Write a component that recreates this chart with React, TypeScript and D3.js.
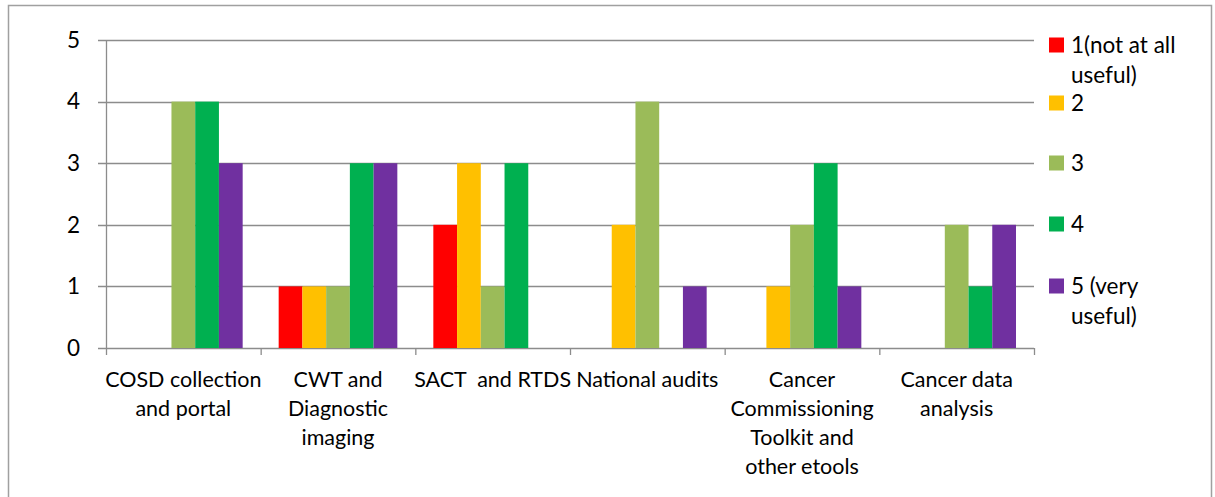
import React from "react";
import * as d3 from "d3";

const categories: string[][] = [
  ["COSD collection", "and portal"],
  ["CWT and", "Diagnostic", "imaging"],
  ["SACT  and RTDS"],
  ["National audits"],
  ["Cancer", "Commissioning", "Toolkit and", "other etools"],
  ["Cancer data", "analysis"],
];
const seriesNames: string[][] = [
  ["1(not at all", "useful)"],
  ["2"],
  ["3"],
  ["4"],
  ["5 (very", "useful)"],
];
const seriesColors = ["#FF0000", "#FFC000", "#9BBB59", "#00B050", "#7030A0"];
const s1 = [0, 1, 2, 0, 0, 0];
const s2 = [0, 1, 3, 2, 1, 0];
const s3 = [4, 1, 1, 4, 2, 2];
const s4 = [4, 3, 3, 0, 3, 1];
const s5 = [3, 3, 0, 1, 1, 2];
const seriesValues = [s1, s2, s3, s4, s5];
const yTicks = [0, 1, 2, 3, 4, 5];

const FONT = "Lato, 'Open Sans', sans-serif";

export default function App() {
  const W = 1215, H = 497;
  const left = 106, right = 1034, top = 40, bottom = 348;
  const x0 = d3.scaleBand<number>().domain(d3.range(categories.length)).range([left, right]).paddingInner(0).paddingOuter(0);
  const bw = x0.bandwidth();
  const inner = (bw - 2 * 18) / 5;
  const y = d3.scaleLinear().domain([0, 5]).range([bottom, top]);
  const grid = "#8c8c8c";
  const legendY = [45, 103, 163, 224, 286];
  return (
    <svg width={W} height={H} style={{ position: "absolute", left: 0, top: 0, background: "#fff" }} fontFamily={FONT}>
      <rect x={0} y={0} width={W} height={H} fill="#fff" />
      <path d={`M8.5,${H + 5} V5.5 H1211.5 V${H + 5}`} fill="none" stroke="#a0a0a0" strokeWidth={1.5} />
      {yTicks.map((t) => (
        <g key={t}>
          <line x1={98} x2={right} y1={Math.round(y(t)) + 0.5} y2={Math.round(y(t)) + 0.5} stroke={grid} strokeWidth={1.3} />
          <text x={80} y={y(t)} dy="0.35em" textAnchor="end" fontSize={22.5} fill="#000">{t}</text>
        </g>
      ))}
      <line x1={left + 0.5} x2={left + 0.5} y1={top} y2={bottom} stroke={grid} strokeWidth={1.3} />
      {d3.range(categories.length + 1).map((i) => {
        const xx = i < categories.length ? x0(i)! : right;
        return <line key={i} x1={xx + 0.5} x2={xx + 0.5} y1={bottom} y2={bottom + 7} stroke={grid} strokeWidth={1.3} />;
      })}
      {seriesValues.map((vals, si) =>
        vals.map((v, ci) =>
          v > 0 ? (
            <rect key={`${si}-${ci}`} x={x0(ci)! + 18 + si * inner} y={y(v)} width={inner} height={bottom - y(v)} fill={seriesColors[si]} />
          ) : null
        )
      )}
      {categories.map((lines, ci) => (
        <text key={ci} textAnchor="middle" fontSize={21.5} fill="#000">
          {lines.map((l, li) => (
            <tspan key={li} x={x0(ci)! + bw / 2} y={379 + li * 29.3} dy="0.35em" style={{ whiteSpace: "pre" }}>{l}</tspan>
          ))}
        </text>
      ))}
      {seriesNames.map((lines, si) => (
        <g key={si}>
          <rect x={1049} y={legendY[si] - 7.5} width={15} height={15} fill={seriesColors[si]} />
          <text fontSize={22.5} fill="#000">
            {lines.map((l, li) => (
              <tspan key={li} x={1071} y={legendY[si] + li * 30.5} dy="0.35em">{l}</tspan>
            ))}
          </text>
        </g>
      ))}
    </svg>
  );
}
